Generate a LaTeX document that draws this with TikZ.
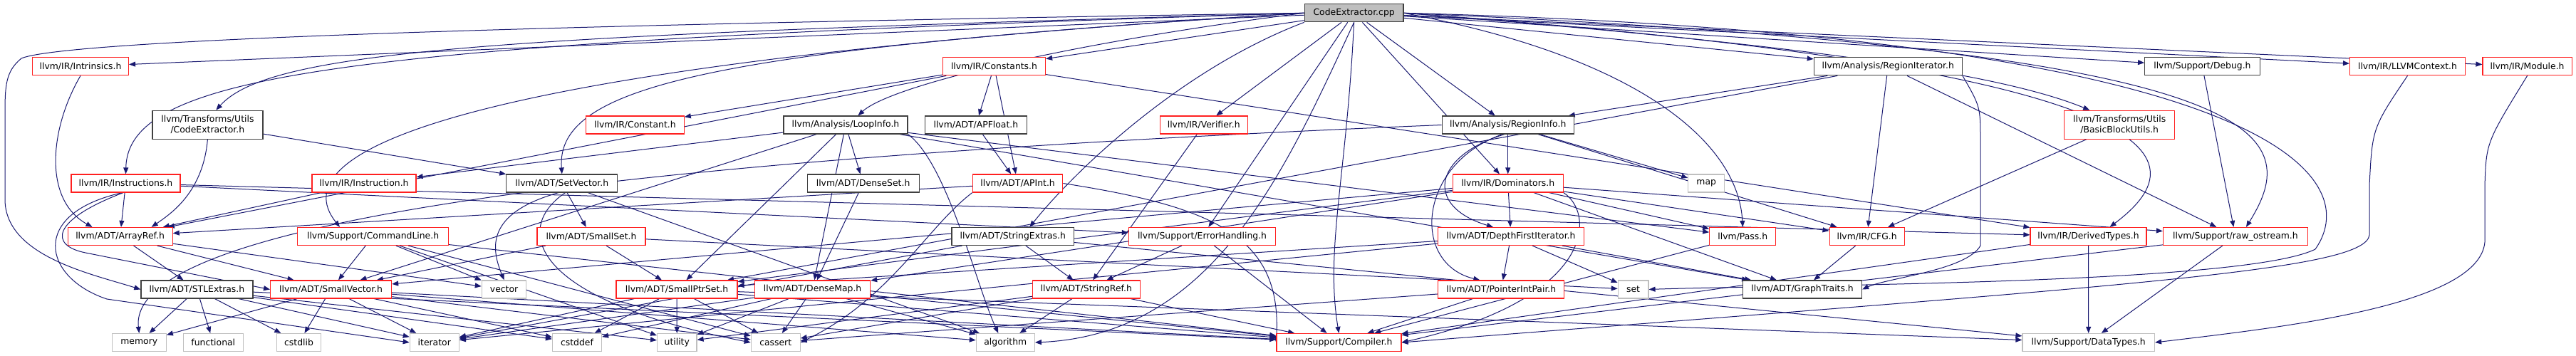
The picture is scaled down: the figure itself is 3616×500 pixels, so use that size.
\documentclass[tikz,border=0pt]{standalone}
\usepackage{fontspec}
\setmainfont{DejaVu Sans}
\usetikzlibrary{arrows.meta}
\definecolor{eblue}{HTML}{191970}
\definecolor{nred}{HTML}{FF2020}
\definecolor{nblack}{HTML}{404040}
\definecolor{ngray}{HTML}{BFBFBF}
\definecolor{cppfill}{HTML}{BFBFBF}
\pgfdeclarelayer{bg}
\pgfsetlayers{bg,main}
\tikzset{
  nd/.style={draw, line width=1.2pt, minimum height=25pt, inner sep=0pt, fill=white,
    font=\fontsize{12.4pt}{15pt}\selectfont, align=center},
  rn/.style={nd, draw=nred},
  bn/.style={nd, draw=nblack},
  gn/.style={nd, draw=ngray},
  edg/.style={draw=eblue, line width=1pt, -{Triangle[length=9pt,width=7pt,fill=eblue]}},
}
\begin{document}
\begin{tikzpicture}[x=1pt,y=-1pt]
\useasboundingbox (0,0) rectangle (3616,500);
% row 0
\node[bn, fill=cppfill, minimum width=138.8pt] (cpp) at (1900.6,18.3) {CodeExtractor.cpp};
% row 1
\node[rn, minimum width=135pt] (intr) at (113,93.3) {llvm/IR/Intrinsics.h};
\node[rn, minimum width=144pt] (cons) at (1395.5,93.3) {llvm/IR/Constants.h};
\node[bn, minimum width=208pt] (regit) at (2650.3,93.3) {llvm/Analysis/RegionIterator.h};
\node[bn, minimum width=161.5pt] (debug) at (3091.4,93.3) {llvm/Support/Debug.h};
\node[rn, minimum width=162pt] (llvmctx) at (3379.5,93.3) {llvm/IR/LLVMContext.h};
\node[rn, minimum width=125.3pt] (module) at (3547.6,93.3) {llvm/IR/Module.h};
% row 2
\node[bn, minimum width=155pt, minimum height=40pt] (ceh) at (291.4,175.2) {llvm/Transforms/Utils\\/CodeExtractor.h};
\node[rn, minimum width=137.6pt] (constant) at (891.4,175.5) {llvm/IR/Constant.h};
\node[bn, minimum width=174pt] (loop) at (1187,175.5) {llvm/Analysis/LoopInfo.h};
\node[bn, minimum width=142.7pt] (apfloat) at (1369.9,175.5) {llvm/ADT/APFloat.h};
\node[rn, minimum width=123pt] (verifier) at (1689.7,175.5) {llvm/IR/Verifier.h};
\node[bn, minimum width=185pt] (reginfo) at (2116.7,175.5) {llvm/Analysis/RegionInfo.h};
\node[rn, minimum width=154.8pt, minimum height=40pt] (bbu) at (2975.2,175.2) {llvm/Transforms/Utils\\/BasicBlockUtils.h};
% row 3
\node[rn, minimum width=153pt] (instrs) at (176.5,257.5) {llvm/IR/Instructions.h};
\node[rn, minimum width=146pt] (instr) at (511,257.5) {llvm/IR/Instruction.h};
\node[bn, minimum width=156pt] (setvec) at (788.8,257.5) {llvm/ADT/SetVector.h};
\node[bn, minimum width=157pt] (denseset) at (1211.6,257.5) {llvm/ADT/DenseSet.h};
\node[rn, minimum width=126.5pt] (apint) at (1428.6,257.5) {llvm/ADT/APInt.h};
\node[rn, minimum width=155pt] (dom) at (2116.7,257.5) {llvm/IR/Dominators.h};
\node[gn, minimum width=50.8pt] (map) at (2395.2,257.5) {map};
% row 4
\node[rn, minimum width=147pt] (arrayref) at (168.6,332) {llvm/ADT/ArrayRef.h};
\node[rn, minimum width=212pt] (cmdline) at (523.6,332) {llvm/Support/CommandLine.h};
\node[rn, minimum width=152pt] (smallset) at (830,332) {llvm/ADT/SmallSet.h};
\node[bn, minimum width=171.6pt] (strext) at (1421.8,332) {llvm/ADT/StringExtras.h};
\node[rn, minimum width=206.4pt] (errh) at (1687.5,332) {llvm/Support/ErrorHandling.h};
\node[rn, minimum width=205pt] (dfi) at (2120.9,332) {llvm/ADT/DepthFirstIterator.h};
\node[rn, minimum width=93pt] (pass) at (2446.3,332) {llvm/Pass.h};
\node[rn, minimum width=105pt] (cfg) at (2620.6,332) {llvm/IR/CFG.h};
\node[rn, minimum width=163pt] (derived) at (2931.5,332) {llvm/IR/DerivedTypes.h};
\node[rn, minimum width=202.8pt] (rawos) at (3137.9,332) {llvm/Support/raw\_ostream.h};
% row 5
\node[bn, minimum width=157pt] (stlext) at (276.4,406.5) {llvm/ADT/STLExtras.h};
\node[rn, minimum width=170pt] (smallvec) at (464.6,406.5) {llvm/ADT/SmallVector.h};
\node[gn, minimum width=62.5pt] (vector) at (707.6,406.5) {vector};
\node[rn, minimum width=170pt] (smallptr) at (950,406.5) {llvm/ADT/SmallPtrSet.h};
\node[rn, minimum width=162pt] (densemap) at (1140.6,406.5) {llvm/ADT/DenseMap.h};
\node[rn, minimum width=150.6pt] (strref) at (1524.8,406.5) {llvm/ADT/StringRef.h};
\node[rn, minimum width=177pt] (pip) at (2107.3,406.5) {llvm/ADT/PointerIntPair.h};
\node[gn, minimum width=42.7pt] (set) at (2292.6,406.5) {set};
\node[bn, minimum width=166.8pt] (graph) at (2530.1,406.5) {llvm/ADT/GraphTraits.h};
% row 6
\node[gn, minimum width=76pt] (memory) at (195.3,481) {memory};
\node[gn, minimum width=84pt] (functional) at (299.3,481) {functional};
\node[gn, minimum width=62.5pt] (cstdlib) at (419.5,481) {cstdlib};
\node[gn, minimum width=69pt] (iterator) at (609.8,481) {iterator};
\node[gn, minimum width=69pt] (cstddef) at (810,481) {cstddef};
\node[gn, minimum width=55.4pt] (utility) at (950.3,481) {utility};
\node[gn, minimum width=68.8pt] (cassert) at (1088.7,481) {cassert};
\node[gn, minimum width=82pt] (algorithm) at (1411.3,481) {algorithm};
\node[rn, minimum width=175pt] (compiler) at (1879.4,481) {llvm/Support/Compiler.h};
\node[gn, minimum width=185.5pt] (datatypes) at (2931.7,481) {llvm/Support/DataTypes.h};

\begin{pgfonlayer}{bg}
% straight edges
\foreach \a/\b in {cpp/intr, cpp/cons, cpp/verifier, cpp/errh, cpp/dom, cpp/reginfo, cpp/regit,
  cpp/debug, cpp/llvmctx, cpp/module,
  ceh/setvec, instrs/arrayref, instrs/derived, instrs/errh, instr/arrayref,
  arrayref/stlext, arrayref/smallvec, arrayref/vector,
  cmdline/smallvec, cmdline/vector, cmdline/utility, cmdline/cassert, cmdline/compiler,
  stlext/memory, stlext/functional, stlext/cstdlib, stlext/iterator, stlext/cstddef, stlext/utility, stlext/compiler,
  smallvec/memory, smallvec/cstdlib, smallvec/iterator, smallvec/cstddef, smallvec/algorithm, smallvec/cassert, smallvec/compiler,
  setvec/smallset, setvec/algorithm,
  smallset/smallptr, smallset/smallvec, smallset/set,
  smallptr/cstddef, smallptr/utility, smallptr/cassert, smallptr/iterator, smallptr/compiler, smallptr/datatypes,
  densemap/cstddef, densemap/utility, densemap/cassert, densemap/algorithm, densemap/iterator, densemap/compiler,
  loop/instr, loop/smallvec, loop/smallptr, loop/densemap, loop/denseset, loop/graph, loop/pass,
  denseset/densemap,
  cons/constant, cons/apfloat, cons/apint, cons/arrayref, cons/derived,
  apfloat/apint, apint/arrayref,
  strext/strref, strext/iterator, strext/datatypes,
  errh/strref, errh/compiler,
  strref/algorithm, strref/cassert, strref/utility, strref/compiler,
  verifier/strref,
  reginfo/dom, reginfo/map, reginfo/cfg,
  dom/dfi, dom/graph, dom/smallptr, dom/smallvec, dom/densemap, dom/cfg, dom/pass, dom/rawos,
  dfi/graph, dfi/pip, dfi/smallptr, dfi/set, dfi/iterator,
  pip/compiler, pip/cassert, pass/compiler, cfg/graph,
  derived/datatypes, derived/compiler,
  regit/reginfo, regit/cfg, regit/smallptr, regit/rawos,
  bbu/cfg, debug/rawos, rawos/compiler, rawos/datatypes}
  \draw[edg] (\a) -- (\b);
% curved edges
\draw[edg] (cpp.west) .. controls (400,40) and (70,65) .. (30,82) .. controls (8,100) and (7,120) .. (7,160) -- (7,280) .. controls (7,360) and (130,385) .. (stlext.west);
\draw[edg] (cpp.west) .. controls (500,60) and (180,100) .. (instrs.north);
\draw[edg] (cpp.west) .. controls (700,50) and (380,70) .. (ceh.60);
\draw[edg] (cpp.west) .. controls (1000,70) and (780,120) .. (setvec.north);
\draw[edg] (cpp.west) .. controls (650,90) and (390,210) .. ([xshift=60pt]cmdline.north west);
\draw[edg] (cpp.west) .. controls (1500,60) and (1250,120) .. ([xshift=105pt]loop.north west);
\draw[edg] (cpp.south west) .. controls (1650,100) and (1500,250) .. ([xshift=110pt]strext.north west);
\draw[edg] (cpp.south) .. controls (1800,250) and (1700,470) .. (algorithm.east);
\draw[edg] (cpp.south) .. controls (1890,250) and (1860,350) .. (compiler.north);
\draw[edg] (cpp.east) .. controls (2300,80) and (2440,200) .. (pass.north);
\draw[edg] (cpp.east) .. controls (3200,50) and (3320,250) .. (3250,350) .. controls (3150,400) and (2500,400) .. (set.east);
\draw[edg] (cpp.east) .. controls (2500,60) and (2800,100) .. ([xshift=36pt]bbu.north west);
\draw[edg] (cpp.east) .. controls (3180,70) and (3240,180) .. ([xshift=15pt]rawos.north);
\draw[edg] (cpp.east) .. controls (3100,100) and (3080,230) .. ([xshift=30pt]derived.north);
\draw[edg] (intr.south) .. controls (70,180) and (60,280) .. ([xshift=35pt]arrayref.north west);
\draw[edg] (ceh.south) .. controls (285,270) and (240,300) .. ([xshift=-30pt]arrayref.north east);
\draw[edg] (instrs.255) .. controls (70,310) and (70,345) .. (120,355) -- (smallvec.west);
\draw[edg] (instrs.250) .. controls (40,300) and (60,390) .. (150,420) -- (iterator.west);
\draw[edg] (setvec.250) .. controls (680,300) and (690,350) .. (vector.north);
\draw[edg] (setvec.290) .. controls (720,320) and (740,420) .. (cassert.west);
\draw[edg] (loop.south east) .. controls (1330,230) and (1370,400) .. ([xshift=-10pt]algorithm.north);
\draw[edg] (apint.south west) .. controls (1300,320) and (1250,420) .. (cassert.east);
\draw[edg] (apint.east) .. controls (1700,290) and (1800,330) .. (compiler.west);
\draw[edg] (reginfo.west) .. controls (700,230) and (180,330) .. (memory.north);
\draw[edg] (reginfo.250) .. controls (2010,220) and (2000,290) .. ([xshift=-25pt]dfi.north);
\draw[edg] (reginfo.240) .. controls (1990,230) and (1980,370) .. ([xshift=-30pt]pip.north);
\draw[edg] (dom.south east) .. controls (2240,300) and (2240,420) .. (compiler.east);
\draw[edg] (regit.south east) .. controls (2780,150) .. (2780,200) -- (2780,345) .. controls (2760,380) and (2650,390) .. (graph.east);
\draw[edg] (llvmctx.south) .. controls (3330,180) .. (3326,260) -- (3326,330) .. controls (3320,380) and (3000,400) .. (compiler.east);
\draw[edg] (module.south) .. controls (3490,200) .. (3488,260) -- (3488,340) .. controls (3480,430) and (3200,460) .. (datatypes.east);
\end{pgfonlayer}
\end{tikzpicture}
\end{document}
